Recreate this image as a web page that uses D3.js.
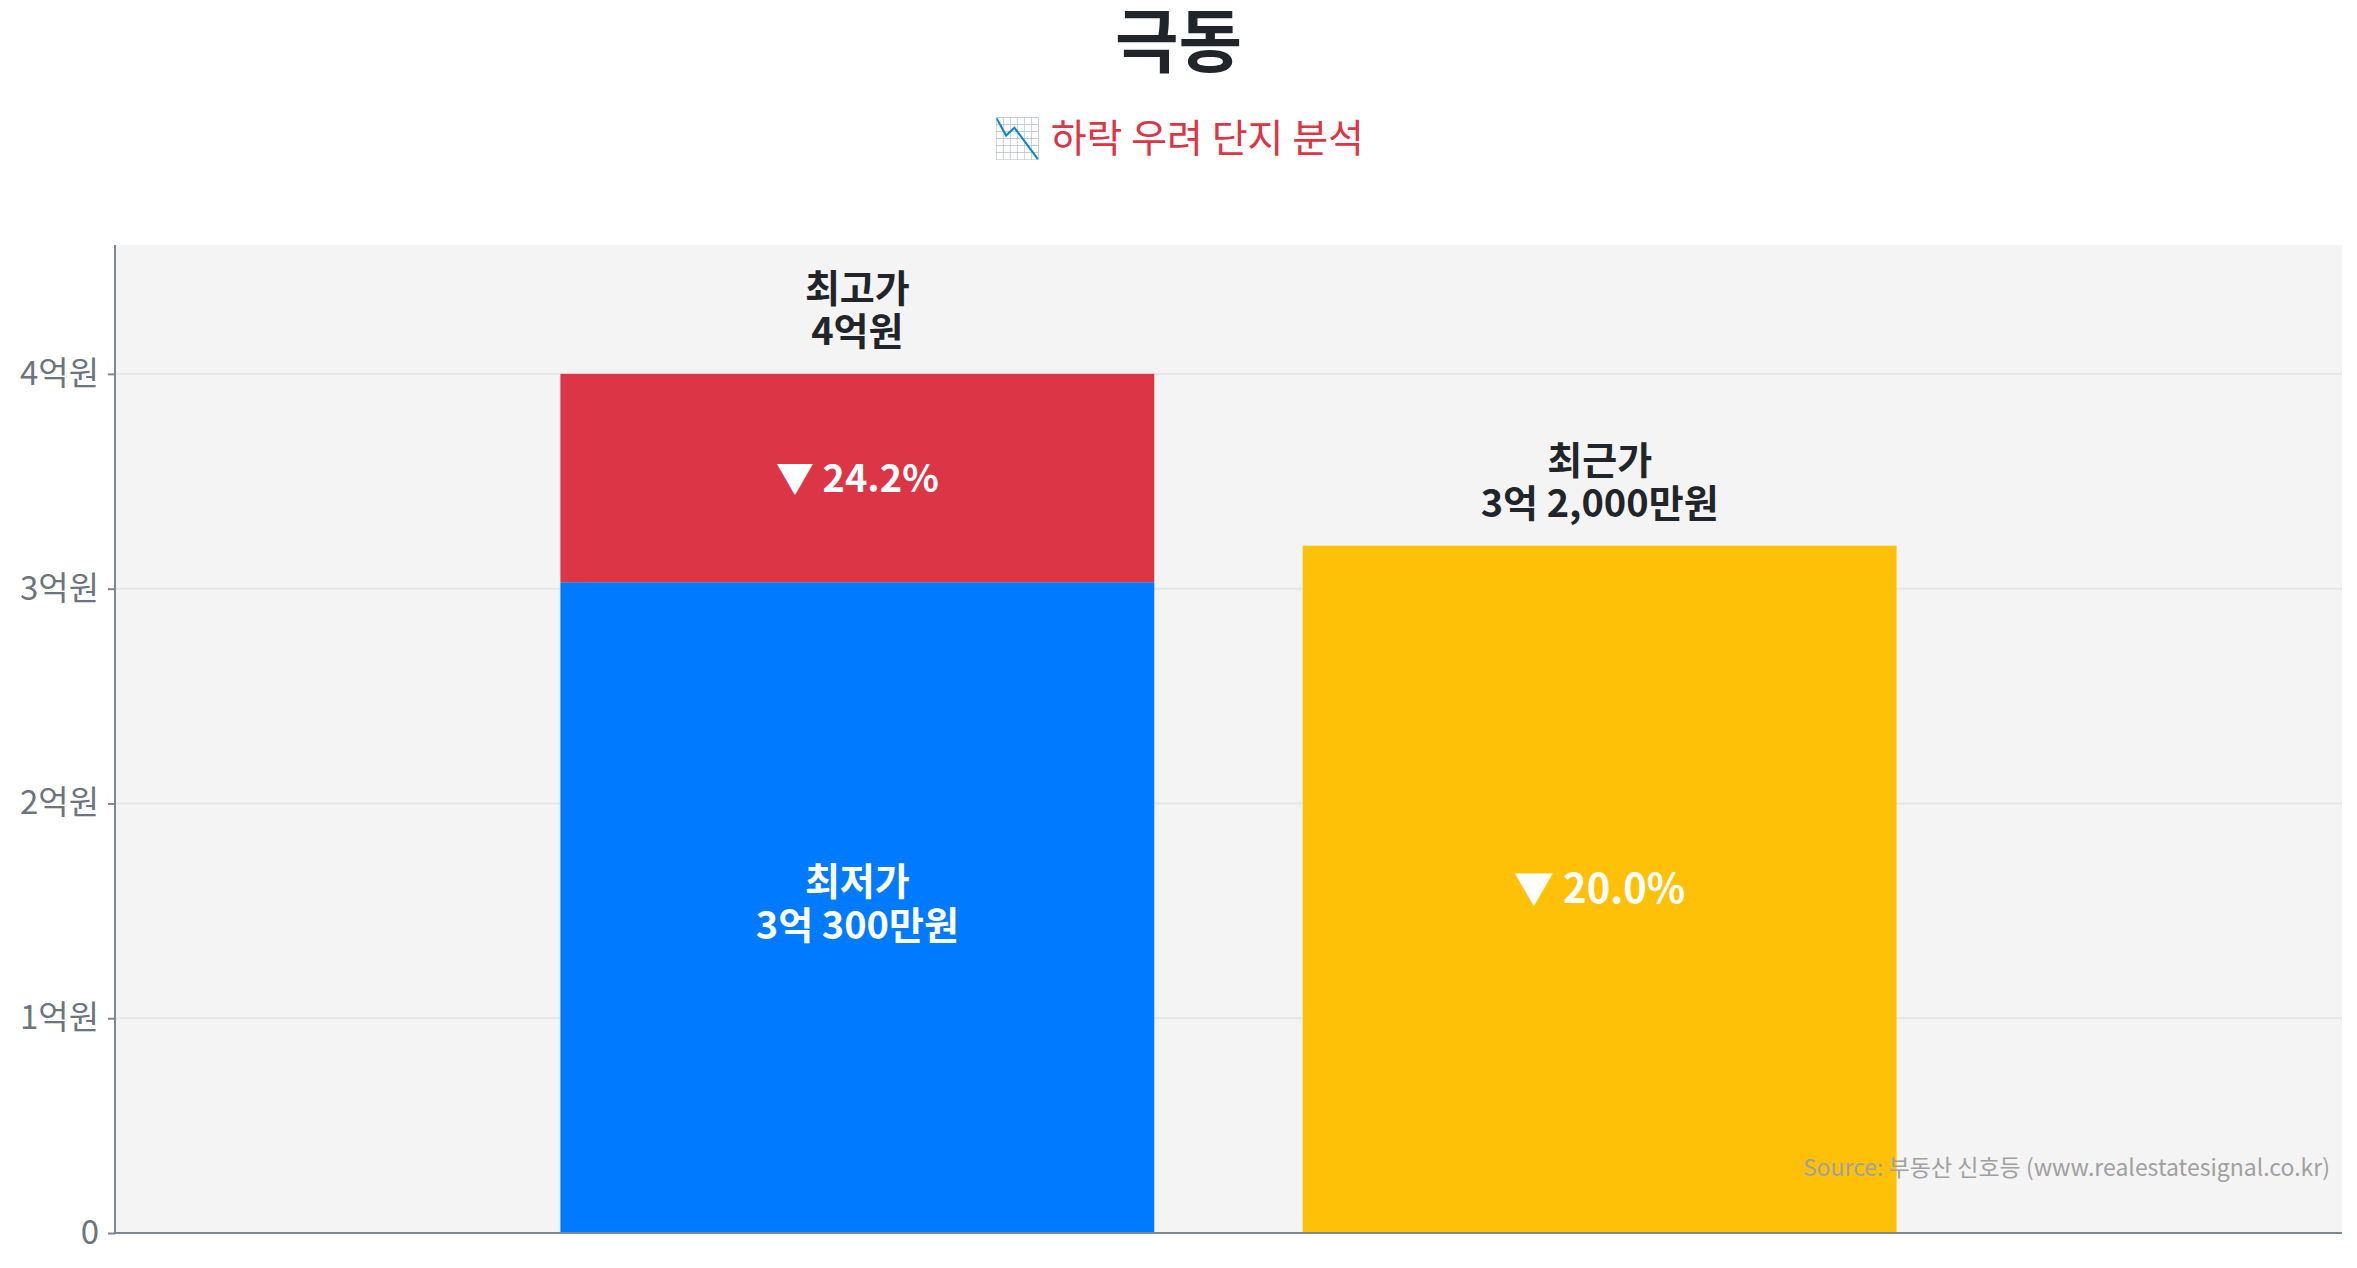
<!DOCTYPE html>
<html>
<head>
    <meta charset="utf-8">
    <title>극동</title>
    <script src="https://cdn.jsdelivr.net/npm/d3@7"></script>
    <style>
        body { margin: 0; background: #fff; }
        text { font-family: "Noto Sans CJK KR", "Noto Sans", sans-serif; }
    </style>
</head>
<body>
    <svg width="2357" height="1268" id="mainsvg"></svg>
    <script>
        // values in 만원
        const categories = ['최고가·최저가', '최근가'];
        const lowValues = [30300, 32000];       // 최저가, 최근가
        const highValues = [40000, null];       // 최고가 stacked on the first bar
        const topLabels = [['최고가', '4억원'], ['최근가', '3억 2,000만원']];
        const baseLabels = [['최저가', '3억 300만원'], ['▼ 20.0%']];
        const dropLabels = ['▼ 24.2%', null];
        const yTicks = [0, 10000, 20000, 30000, 40000];
        const yTickLabels = ['0', '1억원', '2억원', '3억원', '4억원'];

        const svg = d3.select('svg');
        const width = +svg.attr('width');
        const height = +svg.attr('height');
        const margin = {top: 245, right: 15, bottom: 35, left: 115};
        const innerWidth = width - margin.left - margin.right;
        const innerHeight = height - margin.top - margin.bottom;

        const xScale = d3.scaleBand().domain(categories).range([0, innerWidth])
            .paddingInner(0.2).paddingOuter(0.6);
        const yScale = d3.scaleLinear().domain([0, 46000]).range([innerHeight, 0]);

        // title
        svg.append('text').attr('x', width / 2).attr('y', 67)
            .attr('text-anchor', 'middle').attr('font-size', 69).attr('font-weight', 700)
            .attr('fill', '#212529').text('극동');
        svg.append('text').attr('x', width / 2).attr('y', 152)
            .attr('text-anchor', 'middle').attr('font-size', 39)
            .attr('fill', '#dc3545').text('📉 하락 우려 단지 분석');

        const g = svg.append('g').attr('transform', `translate(${margin.left}, ${margin.top})`);

        g.append('rect').attr('width', innerWidth).attr('height', innerHeight).attr('fill', '#f4f4f4');

        // gridlines
        g.selectAll('.grid').data(yTicks.slice(1)).join('line')
            .attr('class', 'grid')
            .attr('x1', 0).attr('x2', innerWidth)
            .attr('y1', d => yScale(d)).attr('y2', d => yScale(d))
            .attr('stroke', '#e6e6e6').attr('stroke-width', 2);

        // bars
        g.selectAll('.low').data(categories).join('rect')
            .attr('class', 'low')
            .attr('x', d => xScale(d)).attr('width', xScale.bandwidth())
            .attr('y', (d, i) => yScale(lowValues[i]))
            .attr('height', (d, i) => innerHeight - yScale(lowValues[i]))
            .attr('fill', (d, i) => i === 0 ? '#007bff' : '#ffc107');

        g.selectAll('.high').data(categories.filter((d, i) => highValues[i] != null)).join('rect')
            .attr('class', 'high')
            .attr('x', d => xScale(d)).attr('width', xScale.bandwidth())
            .attr('y', d => yScale(highValues[categories.indexOf(d)]))
            .attr('height', d => {
                const i = categories.indexOf(d);
                return yScale(lowValues[i]) - yScale(highValues[i]);
            })
            .attr('fill', '#dc3545');

        // axes
        const yAxis = d3.axisLeft(yScale).tickValues(yTicks)
            .tickFormat((d, i) => yTickLabels[i]).tickSize(7).tickPadding(9);
        const yg = g.append('g').call(yAxis);
        yg.select('.domain').attr('stroke', '#7f8790').attr('stroke-width', 2)
            .attr('d', `M0,0V${innerHeight}`);
        yg.selectAll('.tick line').attr('stroke', '#7f8790').attr('stroke-width', 2);
        yg.selectAll('.tick text').attr('font-size', 33).attr('fill', '#6c757d')
            .attr('font-family', '"Noto Sans CJK KR", sans-serif');

        g.append('line').attr('x1', 0).attr('x2', innerWidth)
            .attr('y1', innerHeight).attr('y2', innerHeight)
            .attr('stroke', '#7f8790').attr('stroke-width', 2);

        // labels above the bars
        categories.forEach((c, i) => {
            const cx = xScale(c) + xScale.bandwidth() / 2;
            const topVal = highValues[i] != null ? highValues[i] : lowValues[i];
            const yTop = yScale(topVal);
            const t = g.append('text').attr('text-anchor', 'middle')
                .attr('font-size', 38).attr('font-weight', 700).attr('fill', '#212529');
            t.append('tspan').attr('x', cx).attr('y', yTop - 72).text(topLabels[i][0]);
            t.append('tspan').attr('x', cx).attr('y', yTop - 29).text(topLabels[i][1]);

            // label inside the base segment
            const midBase = (yScale(lowValues[i]) + innerHeight) / 2;
            const lines = baseLabels[i];
            if (lines.length === 2) {
                const b = g.append('text').attr('text-anchor', 'middle')
                    .attr('font-size', 38).attr('font-weight', 700).attr('fill', '#fff');
                b.append('tspan').attr('x', cx).attr('y', midBase - 13).text(lines[0]);
                b.append('tspan').attr('x', cx).attr('y', midBase + 31).text(lines[1]);
            } else {
                g.append('text').attr('x', cx).attr('y', midBase - 3)
                    .attr('text-anchor', 'middle').attr('dominant-baseline', 'central')
                    .attr('font-size', 40).attr('font-weight', 700).attr('fill', '#fff')
                    .text(lines[0]);
            }

            if (dropLabels[i]) {
                const midHigh = (yScale(lowValues[i]) + yScale(highValues[i])) / 2;
                g.append('text').attr('x', cx).attr('y', midHigh - 3)
                    .attr('text-anchor', 'middle').attr('dominant-baseline', 'central')
                    .attr('font-size', 38).attr('font-weight', 700).attr('fill', '#fff')
                    .text(dropLabels[i]);
            }
        });

        // source
        svg.append('text').attr('x', 2330).attr('y', 1176)
            .attr('text-anchor', 'end').attr('font-size', 23).attr('fill', '#a0a0a0')
            .text('Source: 부동산 신호등 (www.realestatesignal.co.kr)');
    </script>
</body>
</html>
